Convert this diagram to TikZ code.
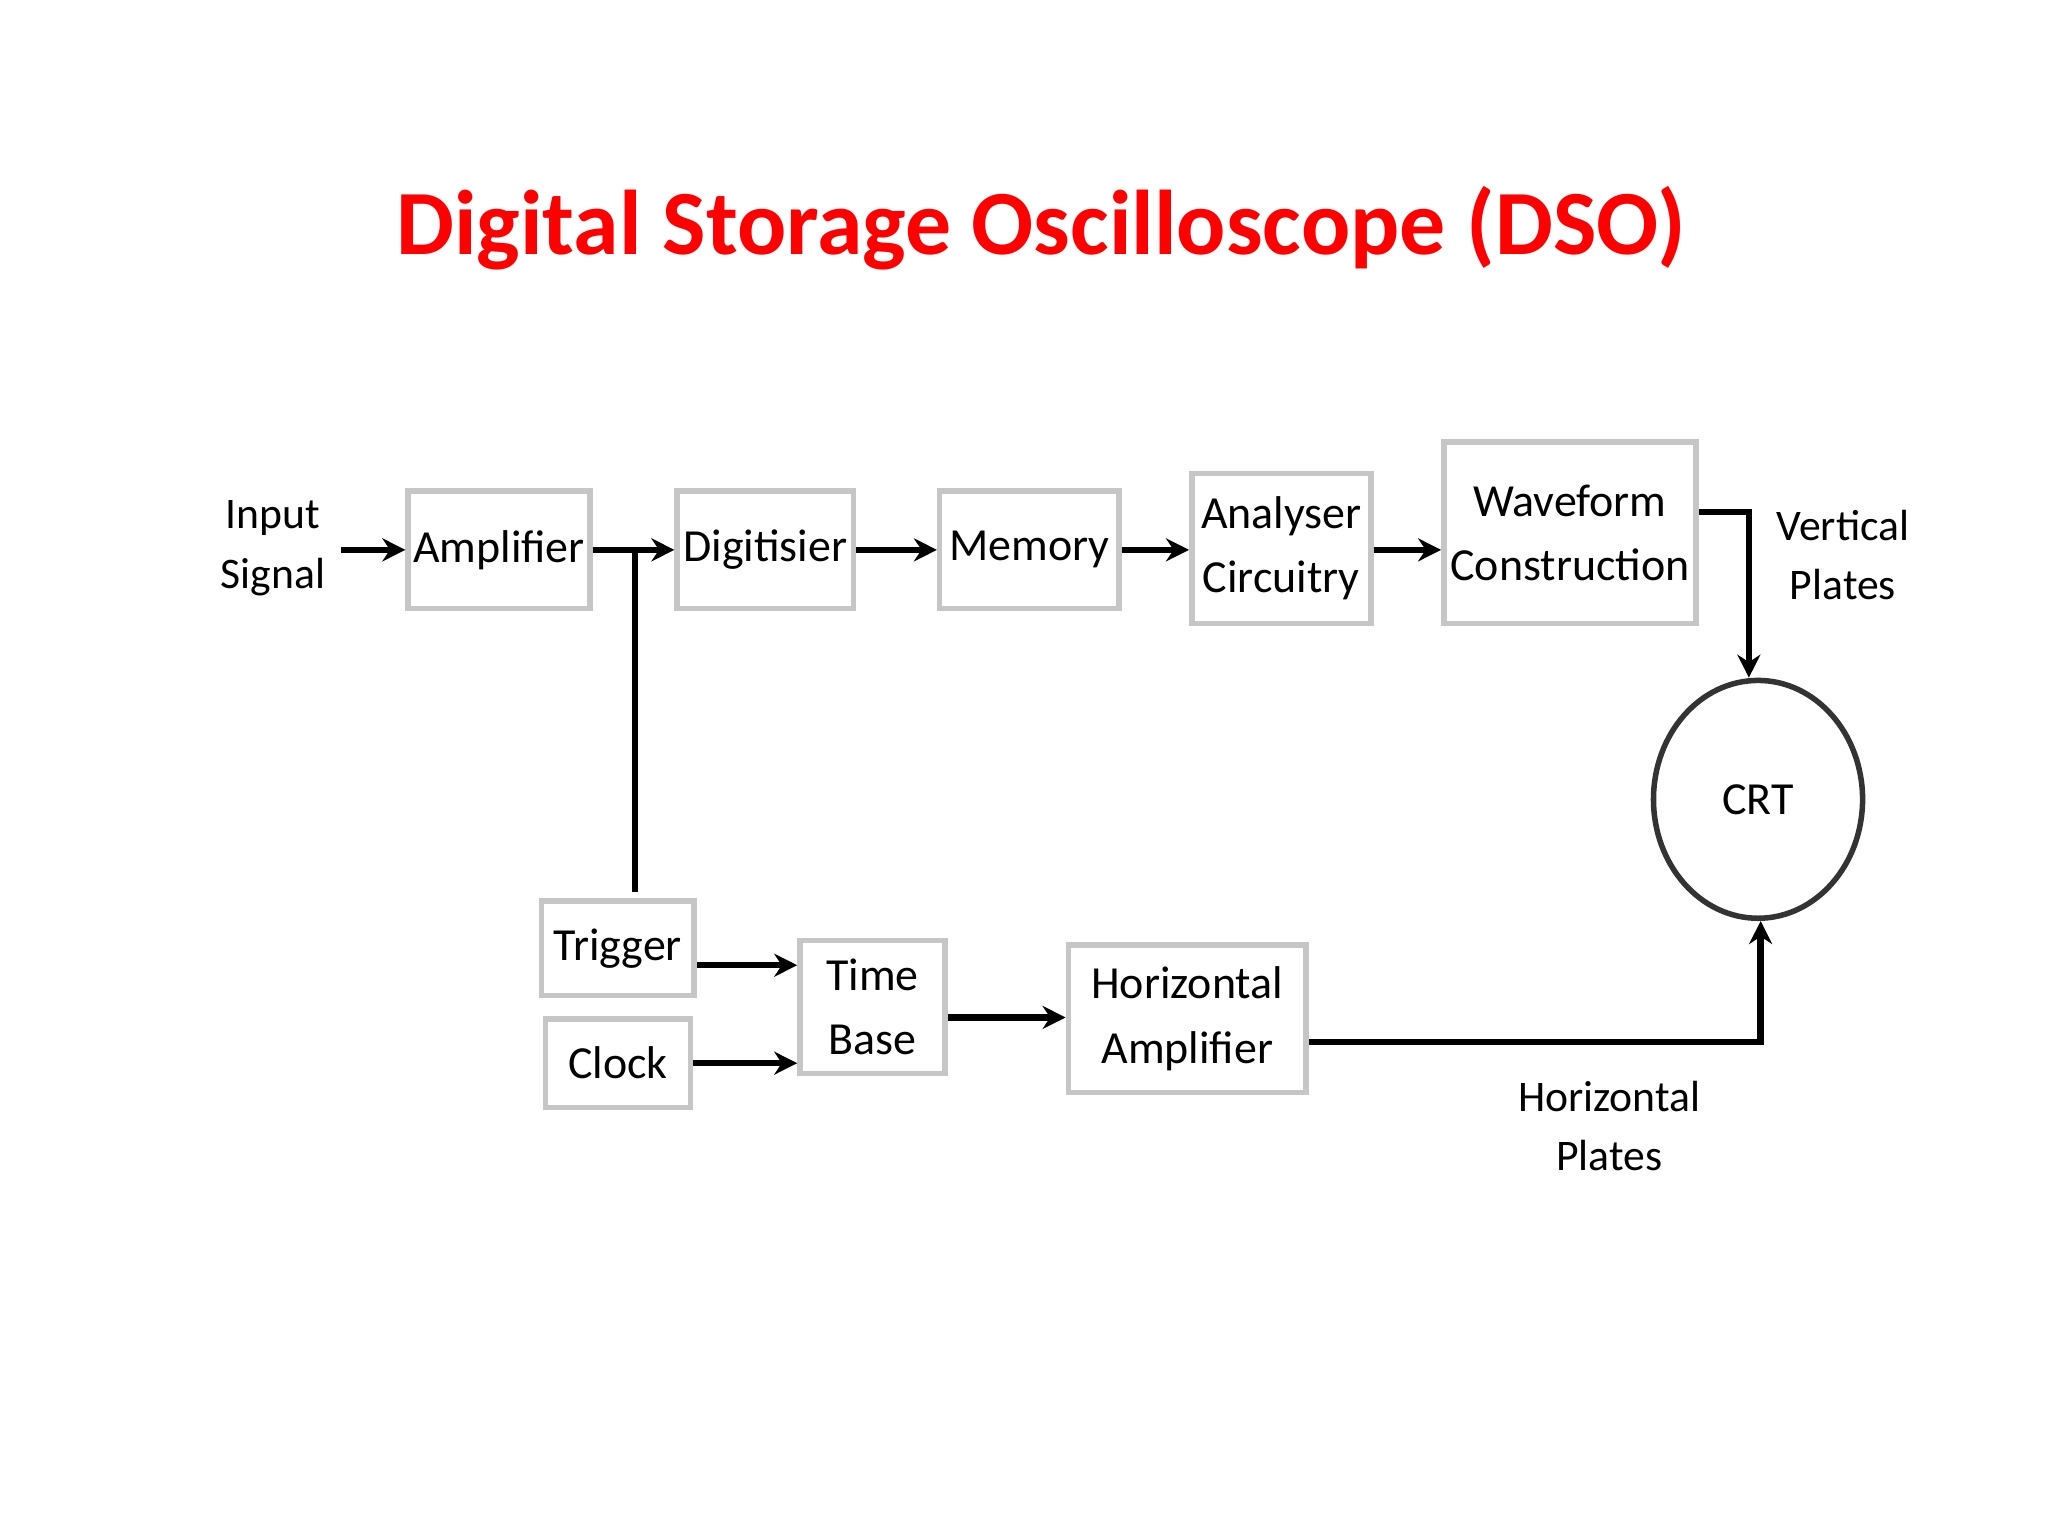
\documentclass[tikz,border=0pt]{standalone}
\usepackage{fontspec}
\setmainfont{Carlito}
\usetikzlibrary{arrows.meta,shapes.geometric}
\begin{document}
\begin{tikzpicture}[x=0.01cm,y=-0.01cm,
  blk/.style={draw=gray!45,line width=1.2pt,align=center,font=\fontsize{10}{14}\selectfont,inner sep=0pt},
  lbl/.style={align=center,font=\fontsize{9.5}{13}\selectfont},
  con/.style={line width=1.4pt,-{Stealth[length=5pt,width=5pt]}},
  ln/.style={line width=1.4pt}]
\useasboundingbox (0,0) rectangle (1568,1176);
\node[text=red,font=\fontsize{20}{24}\selectfont\bfseries] (title) at (797,175) {Digital Storage Oscilloscope (DSO)};
\node[lbl] (in) at (209,420) {Input\\Signal};
\node[blk,minimum width=1.39cm,minimum height=0.90cm] (amp) at (382,421) {Amplifier};
\node[blk,minimum width=1.35cm,minimum height=0.90cm] (dig) at (586,421) {Digitisier};
\node[blk,minimum width=1.37cm,minimum height=0.90cm] (mem) at (788,421) {Memory};
\node[blk,minimum width=1.37cm,minimum height=1.15cm] (ana) at (981,420) {Analyser\\Circuitry};
\node[blk,minimum width=1.93cm,minimum height=1.39cm] (wav) at (1202,408) {Waveform\\Construction};
\node[draw=gray!40!black,line width=1.2pt,ellipse,minimum width=1.60cm,minimum height=1.82cm,font=\fontsize{10}{14}\selectfont] (crt) at (1346,612) {CRT};
\node[lbl] (vp) at (1411,425) {Vertical\\Plates};
\node[blk,minimum width=1.17cm,minimum height=0.72cm] (trg) at (473,726) {Trigger};
\node[blk,minimum width=1.11cm,minimum height=0.68cm] (clk) at (473,814) {Clock};
\node[blk,minimum width=1.11cm,minimum height=1.02cm] (tb) at (668,771) {Time\\Base};
\node[blk,minimum width=1.82cm,minimum height=1.13cm] (ha) at (909,780) {Horizontal\\Amplifier};
\node[lbl] (hp) at (1232,862) {Horizontal\\Plates};
\coordinate (j) at (486,421);
\coordinate (jt) at (486,683);
\coordinate (v1) at (1339,392);
\coordinate (h1) at (1348,798);
\draw[con] (in.east |- j) -- (amp.west |- j);
\draw[con] (amp.east |- j) -- (dig.west |- j);
\draw[ln] (j) -- (jt);
\draw[con] (dig.east |- j) -- (mem.west |- j);
\draw[con] (mem.east |- j) -- (ana.west |- j);
\draw[con] (ana.east |- j) -- (wav.west |- j);
\draw[con] (wav.east |- v1) -- (v1) -- (v1 |- crt.north);
\coordinate (t1) at (0,739);
\coordinate (c1) at (0,814);
\coordinate (b1) at (0,779);
\draw[con] (trg.east |- t1) -- (tb.west |- t1);
\draw[con] (clk.east |- c1) -- (tb.west |- c1);
\draw[con] (tb.east |- b1) -- (ha.west |- b1);
\draw[con] (ha.east |- h1) -- (h1) -- (h1 |- crt.south);
\end{tikzpicture}
\end{document}
